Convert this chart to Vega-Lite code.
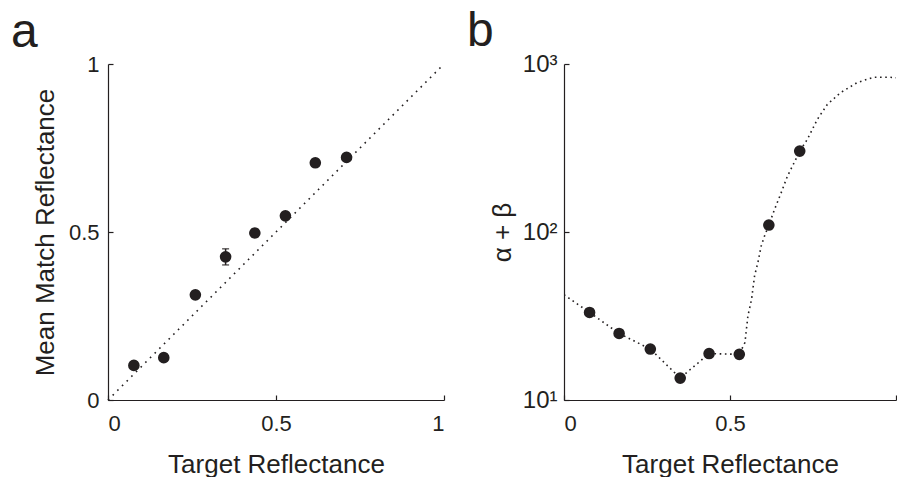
{
  "$schema": "https://vega.github.io/schema/vega-lite/v6.json",
  "background": "white",
  "padding": {"left": 11, "top": 8, "right": 0, "bottom": 0},
  "config": {
    "view": {"stroke": null},
    "font": "Liberation Sans",
    "axis": {
      "grid": false,
      "domainColor": "#231f20",
      "domainWidth": 1.2,
      "tickColor": "#231f20",
      "tickWidth": 1.2,
      "tickSize": -5,
      "labelColor": "#231f20",
      "labelFont": "Liberation Sans",
      "labelFontSize": 22,
      "titleFont": "Liberation Sans",
      "titleFontSize": 26,
      "titleFontWeight": "normal",
      "titleColor": "#231f20"
    },
    "title": {"fontSize": 48, "fontWeight": "normal", "anchor": "start", "frame": "group", "color": "#231f20", "font": "Liberation Sans", "baseline": "alphabetic"},
    "concat": {"spacing": 19}
  },
  "datasets": {
    "pts": [
      {"target": 0.077, "match": 0.103, "lo": 0.093, "hi": 0.113, "ab": 33.2},
      {"target": 0.166, "match": 0.126, "lo": 0.116, "hi": 0.136, "ab": 24.9},
      {"target": 0.26, "match": 0.313, "lo": 0.303, "hi": 0.323, "ab": 20.1},
      {"target": 0.35, "match": 0.426, "lo": 0.402, "hi": 0.45, "ab": 13.5},
      {"target": 0.437, "match": 0.497, "lo": 0.485, "hi": 0.509, "ab": 18.9},
      {"target": 0.528, "match": 0.548, "lo": 0.538, "hi": 0.558, "ab": 18.7},
      {"target": 0.617, "match": 0.706, "lo": 0.696, "hi": 0.716, "ab": 110},
      {"target": 0.71, "match": 0.722, "lo": 0.712, "hi": 0.732, "ab": 303}
    ],
    "diag": [
      {"x": 0, "y": 0},
      {"x": 1, "y": 1}
    ],
    "curve": [
      {"x": 0, "ab": 42.3},
      {"x": 0.077, "ab": 33.2},
      {"x": 0.166, "ab": 24.9},
      {"x": 0.26, "ab": 20.1},
      {"x": 0.35, "ab": 13.5},
      {"x": 0.437, "ab": 18.9},
      {"x": 0.528, "ab": 18.7},
      {"x": 0.545, "ab": 22.0},
      {"x": 0.554, "ab": 31.7},
      {"x": 0.565, "ab": 39.8},
      {"x": 0.574, "ab": 54.8},
      {"x": 0.584, "ab": 65.8},
      {"x": 0.594, "ab": 82.6},
      {"x": 0.604, "ab": 94.7},
      {"x": 0.617, "ab": 110},
      {"x": 0.634, "ab": 136},
      {"x": 0.654, "ab": 171},
      {"x": 0.673, "ab": 215},
      {"x": 0.693, "ab": 258},
      {"x": 0.71, "ab": 303},
      {"x": 0.733, "ab": 356},
      {"x": 0.763, "ab": 468},
      {"x": 0.793, "ab": 574},
      {"x": 0.832, "ab": 673},
      {"x": 0.882, "ab": 773},
      {"x": 0.932, "ab": 834},
      {"x": 0.981, "ab": 834},
      {"x": 1.0, "ab": 828}
    ]
  },
  "hconcat": [
    {
      "width": 336,
      "height": 336,
      "title": {"text": "a", "dx": -97, "offset": -4},
      "layer": [
        {
          "data": {"name": "diag"},
          "mark": {"type": "line", "color": "#231f20", "strokeWidth": 1.6, "strokeDash": [1.6, 5]},
          "encoding": {
            "x": {"field": "x", "type": "quantitative", "scale": {"domain": [0, 1]},
              "axis": {"values": [0, 0.5, 1], "format": "~g", "title": "Target Reflectance", "labelPadding": 18, "titlePadding": 17}},
            "y": {"field": "y", "type": "quantitative", "scale": {"domain": [0, 1]},
              "axis": {"values": [0, 0.5, 1], "format": "~g", "title": "Mean Match Reflectance", "labelPadding": 14, "titlePadding": 10}}
          }
        },
        {
          "data": {"name": "pts"},
          "mark": {"type": "errorbar", "color": "#231f20", "thickness": 1.5, "ticks": {"size": 7, "thickness": 1.5, "color": "#231f20"}},
          "encoding": {
            "x": {"field": "target", "type": "quantitative", "title": "Target Reflectance"},
            "y": {"field": "lo", "type": "quantitative", "title": "Mean Match Reflectance"},
            "y2": {"field": "hi"}
          }
        },
        {
          "data": {"name": "pts"},
          "mark": {"type": "circle", "size": 135, "opacity": 1, "color": "#231f20"},
          "encoding": {
            "x": {"field": "target", "type": "quantitative", "title": "Target Reflectance"},
            "y": {"field": "match", "type": "quantitative", "title": "Mean Match Reflectance"}
          }
        }
      ]
    },
    {
      "width": 332,
      "height": 336,
      "title": {"text": "b", "dx": -97, "offset": -4},
      "layer": [
        {
          "data": {"name": "curve"},
          "mark": {"type": "line", "color": "#231f20", "strokeWidth": 1.6, "strokeDash": [1.6, 3.6], "clip": true},
          "encoding": {
            "x": {"field": "x", "type": "quantitative", "scale": {"domain": [0, 1]},
              "axis": {"values": [0, 0.5, 1], "labelExpr": "datum.value == 1 ? '' : format(datum.value, '~g')", "title": "Target Reflectance", "labelPadding": 18, "titlePadding": 17}},
            "y": {"field": "ab", "type": "quantitative", "scale": {"type": "log", "domain": [10, 1000]},
              "axis": {"values": [10, 100, 1000], "labelExpr": "datum.value == 1000 ? '10³' : datum.value == 100 ? '10²' : '10¹'", "title": "α + β", "labelFontSize": 24, "labelPadding": 12, "titlePadding": 7}}
          }
        },
        {
          "data": {"name": "pts"},
          "mark": {"type": "circle", "size": 135, "opacity": 1, "color": "#231f20"},
          "encoding": {
            "x": {"field": "target", "type": "quantitative", "title": "Target Reflectance"},
            "y": {"field": "ab", "type": "quantitative", "title": "α + β"}
          }
        }
      ]
    }
  ]
}
